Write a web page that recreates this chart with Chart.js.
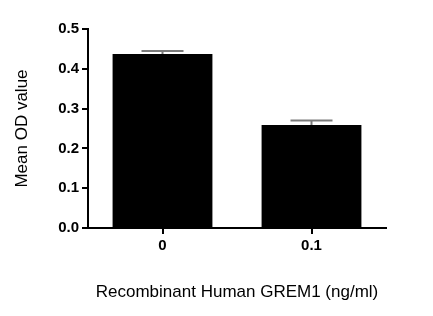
<!DOCTYPE html>
<html>
<head>
<meta charset="utf-8">
<script src="https://cdn.jsdelivr.net/npm/chart.js@4/dist/chart.umd.min.js"></script>
<style>
  html, body { margin: 0; padding: 0; background: #fff; }
  #wrap { width: 433px; height: 316px; }
</style>
</head>
<body>
<div id="wrap"><canvas id="odChart" width="433" height="316"></canvas></div>
<script>
// data
const doses = ['0', '0.1'];
const meanOD = [0.437, 0.259];
const errOD = [0.008, 0.011];
const yTicks = [0, 0.1, 0.2, 0.3, 0.4, 0.5];

// upper error bars drawn through the scales
const errorBars = {
  id: 'errorBars',
  afterDatasetsDraw(chart) {
    const ctx = chart.ctx;
    const meta = chart.getDatasetMeta(0);
    const y = chart.scales.y;
    ctx.save();
    ctx.strokeStyle = '#7a7a7a';
    ctx.lineWidth = 2;
    meta.data.forEach((bar, i) => {
      const top = y.getPixelForValue(meanOD[i] + errOD[i]);
      const base = y.getPixelForValue(meanOD[i]);
      ctx.beginPath();
      ctx.moveTo(bar.x, base);
      ctx.lineTo(bar.x, top);
      ctx.moveTo(bar.x - 21, top);
      ctx.lineTo(bar.x + 21, top);
      ctx.stroke();
    });
    ctx.restore();
  }
};

const tickFont = { family: 'Liberation Sans', size: 15, weight: 'bold' };
const titleFont = { family: 'Liberation Sans', size: 17 };

const ctx = document.getElementById('odChart').getContext('2d');
const odChart = new Chart(ctx, {
  type: 'bar',
  data: {
    labels: doses,
    datasets: [{
      data: meanOD,
      backgroundColor: '#000',
      borderWidth: 0,
      categoryPercentage: 1,
      barPercentage: 0.67
    }]
  },
  options: {
    responsive: false,
    animation: false,
    layout: { padding: { top: 29, right: 47, left: 0, bottom: 0 } },
    plugins: { legend: { display: false }, tooltip: { enabled: false } },
    scales: {
      x: {
        afterFit: s => { s.height = 88; },
        grid: { drawOnChartArea: false, offset: false, color: '#000', lineWidth: 2, tickLength: 6 },
        border: { color: '#000', width: 2 },
        ticks: { color: '#000', font: tickFont, padding: 3 },
        title: {
          display: true,
          text: 'Recombinant Human GREM1 (ng/ml)',
          color: '#000',
          font: titleFont,
          padding: { top: 0, bottom: 13 }
        }
      },
      y: {
        min: 0,
        max: 0.5,
        afterFit: s => { s.width = 88; },
        afterBuildTicks: s => { s.ticks = yTicks.map(v => ({ value: v })); },
        grid: { drawOnChartArea: false, color: '#000', lineWidth: 2, tickLength: 6 },
        border: { color: '#000', width: 2 },
        ticks: {
          color: '#000',
          font: tickFont,
          padding: 3,
          callback: v => v.toFixed(1)
        },
        title: {
          display: true,
          text: 'Mean OD value',
          color: '#000',
          font: titleFont,
          padding: { top: 12, bottom: 0 }
        }
      }
    }
  },
  plugins: [errorBars]
});
</script>
</body>
</html>
